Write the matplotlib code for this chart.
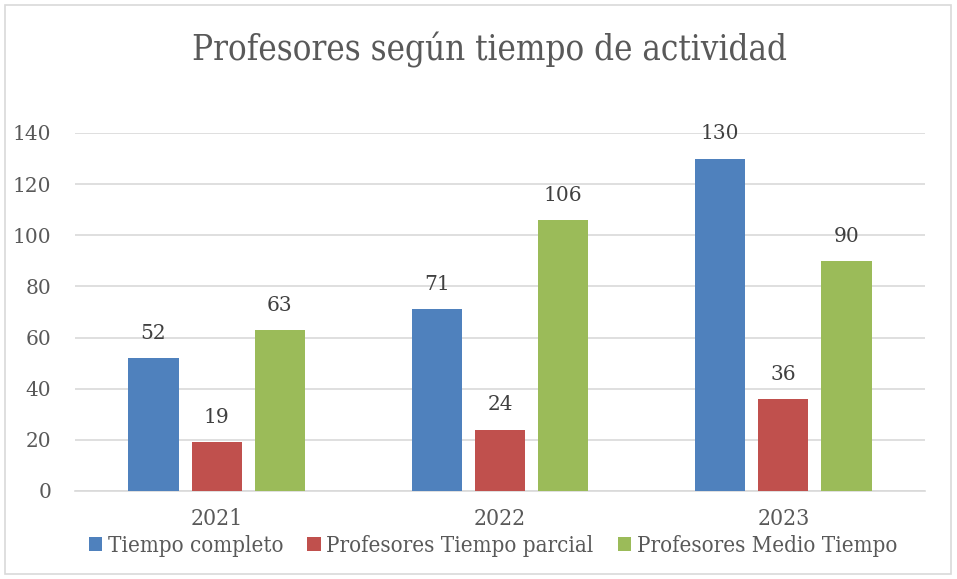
import matplotlib
matplotlib.use("Agg")
import matplotlib.pyplot as plt
import numpy as np
from matplotlib.patches import Rectangle

years = ["2021", "2022", "2023"]
series_names = ["Tiempo completo", "Profesores Tiempo parcial", "Profesores Medio Tiempo"]
tiempo_completo = [52, 71, 130]
tiempo_parcial = [19, 24, 36]
medio_tiempo = [63, 106, 90]
colors = ["#4F81BD", "#C0504D", "#9BBB59"]
yticks = [0, 20, 40, 60, 80, 100, 120, 140]

W, H = 957, 579
fig = plt.figure(figsize=(W / 100, H / 100), dpi=100)
fig.patch.set_facecolor("white")

# outer border
fig.patches.append(Rectangle((5 / W, 5 / H), (951 - 5) / W, (574 - 5) / H,
                             transform=fig.transFigure, fill=False,
                             edgecolor="#D9D9D9", linewidth=1.2))

left, right, top, bottom = 75, 925, 133, 491
ax = fig.add_axes([left / W, (H - bottom) / H, (right - left) / W, (bottom - top) / H])

text_color = "#595959"
serif = ["DejaVu Serif"]

x = np.arange(len(years))
bw = 0.177
off = 0.223
for i, (vals, c, name) in enumerate(zip([tiempo_completo, tiempo_parcial, medio_tiempo], colors, series_names)):
    pos = x + (i - 1) * off
    ax.bar(pos, vals, width=bw, color=c, label=name, zorder=3)
    for p, v in zip(pos, vals):
        ax.annotate(str(v), (p, v), xytext=(0, 11), textcoords="offset points",
                    ha="center", va="bottom", fontsize=14.5, color="#404040",
                    family=serif)

ax.set_xlim(-0.5, 2.5)
ax.set_ylim(0, 140)
ax.set_yticks(yticks)
ax.set_yticklabels([str(t) for t in yticks], fontsize=14.5, color=text_color, family=serif)
ax.set_xticks(x)
ax.set_xticklabels(years, fontsize=16.5, color=text_color, family=serif, fontstretch="condensed")
ax.tick_params(axis="both", length=0)
ax.tick_params(axis="y", pad=17)
ax.tick_params(axis="x", pad=12)
ax.grid(axis="y", color="#D9D9D9", linewidth=1.2, zorder=0)
for s in ["top", "right", "left"]:
    ax.spines[s].set_visible(False)
ax.spines["bottom"].set_color("#D9D9D9")
ax.spines["bottom"].set_linewidth(1.2)

fig.text(489 / W, 1 - 50 / H, "Profesores según tiempo de actividad", ha="center", va="center",
         fontsize=25, color=text_color, family=serif, fontstretch="condensed")

leg = fig.legend(loc="center", bbox_to_anchor=(493 / W, 1 - 546 / H), ncol=3, frameon=False,
                 prop={"family": serif, "size": 16, "stretch": "condensed"},
                 handlelength=0.6, handleheight=0.6, handletextpad=0.25, columnspacing=1.1,
                 borderpad=0, borderaxespad=0)
for t in leg.get_texts():
    t.set_color(text_color)

fig.savefig("out.png", dpi=100)
